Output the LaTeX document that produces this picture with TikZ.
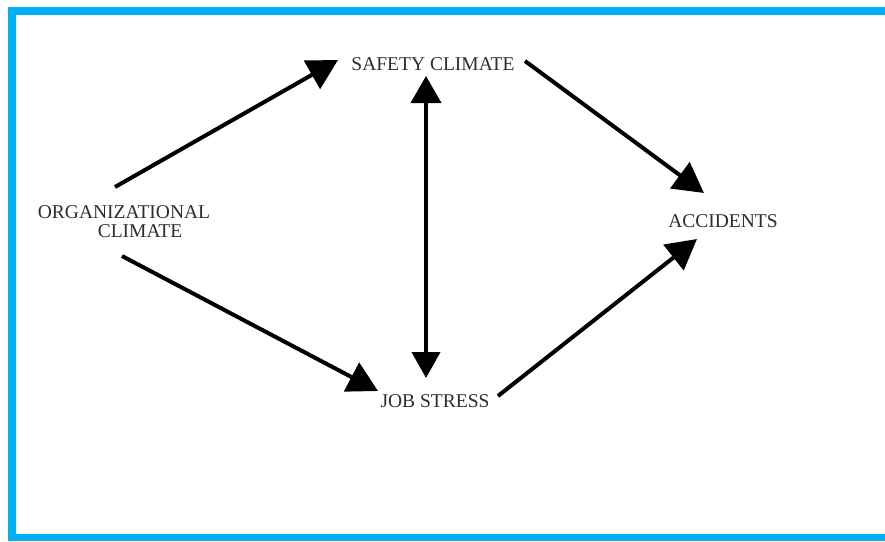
\documentclass[tikz,border=0pt]{standalone}
\usepackage{fontspec}
\setmainfont{Liberation Serif}
\usetikzlibrary{arrows.meta}
\definecolor{frameblue}{RGB}{0,176,240}
\definecolor{labelgray}{RGB}{45,45,45}
\tikzset{
  label text/.style={inner sep=0pt, anchor=base, text=labelgray,
    font=\fontsize{19.5}{20}\selectfont},
  link/.style={line width=4pt, black,
    -{Triangle[length=30pt,width=32pt]}},
  twoway/.style={line width=4pt, black,
    {Triangle[length=27pt,width=30pt]}-{Triangle[length=26pt,width=28pt]}}
}
\begin{document}
\begin{tikzpicture}[x=1pt,y=-1pt]
  \useasboundingbox (0,0) rectangle (885,541);
  % frame
  \fill[frameblue] (8,7) rectangle (885,15);
  \fill[frameblue] (8,7) rectangle (16,541);
  \fill[frameblue] (8,534) rectangle (885,541);

  % labels
  \node[label text] (safety) at (433,70) {SAFETY CLIMATE};
  \node[label text] (org)    at (124,218) {ORGANIZATIONAL};
  \node[label text] (orgb)   at (140,237) {CLIMATE};
  \node[label text] (acc)    at (723,227) {ACCIDENTS};
  \node[label text] (job)    at (435,407) {JOB STRESS};

  % paths
  \draw[link] ([shift={(-9,-31)}]org.base) -- ([shift={(-95,-10)}]safety.base);
  \draw[link] ([shift={(-18,19)}]orgb.base) -- ([shift={(-57,-16)}]job.base);
  \draw[twoway] ([shift={(-7,6)}]safety.base) -- ([shift={(-9,-29)}]job.base);
  \draw[link] ([shift={(92,-9)}]safety.base) -- ([shift={(-19,-34)}]acc.base);
  \draw[link] ([shift={(63,-11)}]job.base) -- ([shift={(-26,12)}]acc.base);
\end{tikzpicture}
\end{document}
